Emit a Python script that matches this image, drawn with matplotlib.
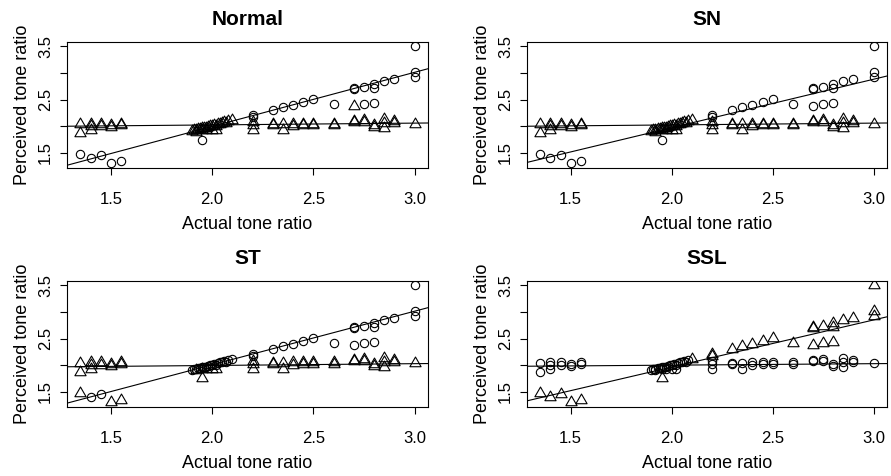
import numpy as np
import matplotlib
matplotlib.use( "Agg" )
import matplotlib.pyplot as plt
from matplotlib.path import Path

plt.rcParams['font.family'] = ['Liberation Sans', 'DejaVu Sans']

# points read off the panels (same observations in every panel)
# blocks: lower-left diag | left flat | outlier | diag cluster | low cluster | right diag | right flat
actual = np.array( [
    1.35, 1.40, 1.45, 1.50, 1.55,
    1.35, 1.35, 1.40, 1.40, 1.40, 1.45, 1.45, 1.50, 1.50, 1.55, 1.55,
    1.95,
    1.90, 1.91, 1.92, 1.93, 1.94, 1.95, 1.96, 1.97, 1.98, 1.99,
    2.00, 2.01, 2.02, 2.03, 2.04, 2.05, 2.06, 2.07, 2.08, 2.10,
    1.92, 1.95, 1.97, 2.00, 2.02,
    2.20, 2.20, 2.30, 2.35, 2.40, 2.45, 2.50, 2.60, 2.70, 2.70, 2.70,
    2.75, 2.75, 2.80, 2.80, 2.80, 2.85, 2.90, 3.00, 3.00, 3.00,
    2.20, 2.20, 2.20, 2.30, 2.30, 2.35, 2.35, 2.40, 2.40, 2.45, 2.45, 2.50, 2.50,
    2.60, 2.60, 2.70, 2.70, 2.75, 2.75, 2.80, 2.80, 2.85, 2.85, 2.85, 2.90, 2.90, 3.00 ] )

perceived = np.array( [
    1.47, 1.41, 1.46, 1.30, 1.35,
    2.04, 1.87, 2.05, 2.00, 1.92, 2.05, 2.01, 2.02, 1.99, 2.05, 2.03,
    1.75,
    1.91, 1.93, 1.92, 1.95, 1.94, 1.96, 1.97, 1.96, 1.99, 2.00,
    2.01, 2.02, 2.01, 2.04, 2.05, 2.06, 2.07, 2.06, 2.09, 2.12,
    1.90, 1.93, 1.92, 1.93, 1.92,
    2.21, 2.17, 2.31, 2.36, 2.39, 2.45, 2.51, 2.41, 2.69, 2.71, 2.38,
    2.74, 2.42, 2.80, 2.71, 2.43, 2.85, 2.89, 3.50, 3.01, 2.92,
    2.08, 2.03, 1.92, 2.04, 2.02, 2.04, 1.93, 2.05, 2.01, 2.05, 2.03, 2.05, 2.02,
    2.05, 2.03, 2.09, 2.07, 2.11, 2.08, 2.02, 1.99, 2.13, 2.06, 1.96, 2.10, 2.06, 2.04 ] )

# component of each point per model, 1 = rising line, 0 = flat line
clsNormal = ( "11111" "00000000000" "1" "00000000000000000000" "00000"
              "111111111101111111111" "000000000000000000000000000" )
clsSN     = ( "11111" "00000000000" "1" "00000000000000000000" "00000"
              "111111111111111111111" "000000000000000000000000000" )
clsST     = ( "01100" "00000000000" "0" "11111111111111111111" "00000"
              "111111111111111111111" "000000000000000000000000000" )
clsSSL    = ( "11111" "00000000000" "1" "00000000000000000001" "00000"
              "111111111111111111111" "000000000000000000000000000" )

panelName = ["Normal", "SN", "ST", "SSL"]
panelCls = [clsNormal, clsSN, clsST, clsSSL]
# fitted lines (intercept, slope)
riseLine = [( -0.039, 1.017 ), ( 0.152, 0.910 ), ( -0.005, 1.006 ), ( 0.194, 0.885 )]
flatLine = [( 1.956, 0.034 ), ( 1.956, 0.034 ), ( 1.926, 0.034 ), ( 1.944, 0.028 )]
riseMarker = ["o", "o", "o", "tri"]

triangle = Path( [( 0, 1 ), ( -0.866, -0.5 ), ( 0.866, -0.5 ), ( 0, 1 )],
                 [Path.MOVETO, Path.LINETO, Path.LINETO, Path.CLOSEPOLY] )

panelPos = [[0.0752, 0.647, 0.4052, 0.2647], [0.5915, 0.647, 0.4040, 0.2647],
            [0.0752, 0.145, 0.4052, 0.2647], [0.5915, 0.145, 0.4040, 0.2647]]

def plotBoilerplate( fig, pos, title ):
    ax = fig.add_axes( pos )
    for s in ax.spines.values():
        s.set_linewidth( 0.8 )
    ax.set_xlim( 1.284, 3.066 )
    ax.set_ylim( 1.215, 3.58 )
    ax.set_xticks( [1.5, 2.0, 2.5, 3.0] )
    ax.set_xticklabels( ["1.5", "2.0", "2.5", "3.0"] )
    ax.set_yticks( [1.5, 2.0, 2.5, 3.0, 3.5] )
    ax.set_yticklabels( ["1.5", "", "2.5", "", "3.5"], rotation = 90, va = 'center' )
    ax.tick_params( direction = 'out', length = 5, width = 0.8, labelsize = 12 )
    ax.tick_params( axis = 'x', pad = 12 )
    ax.tick_params( axis = 'y', pad = 5 )
    ax.set_xlabel( "Actual tone ratio", fontsize = 13, labelpad = 7 )
    ax.set_ylabel( "Perceived tone ratio", fontsize = 13, labelpad = 5 )
    ax.set_title( title, fontsize = 15, weight = 'bold', pad = 12.5 )
    return ax

def drawPanel( fig, idx ):
    ax = plotBoilerplate( fig, panelPos[idx], panelName[idx] )
    cls = np.array( [int( c ) for c in panelCls[idx]] )
    rise = cls == 1
    if riseMarker[idx] == "o":
        mRise, mFlat = "o", triangle
        sRise, sFlat = 6, 9.3
    else:
        mRise, mFlat = triangle, "o"
        sRise, sFlat = 9.3, 6
    ax.plot( actual[rise], perceived[rise], linestyle = "none", marker = mRise,
             markersize = sRise, mfc = "none", mec = "black", mew = 0.8 )
    ax.plot( actual[~rise], perceived[~rise], linestyle = "none", marker = mFlat,
             markersize = sFlat, mfc = "none", mec = "black", mew = 0.8 )
    b, m = riseLine[idx]
    ax.axline( ( 0, b ), slope = m, color = "black", linewidth = 0.8 )
    b, m = flatLine[idx]
    ax.axline( ( 0, b ), slope = m, color = "black", linewidth = 0.8 )

def main():
    fig = plt.figure( figsize = ( 8.91, 4.76 ), dpi = 100, facecolor = 'white' )
    for i in range( 4 ):
        drawPanel( fig, i )
    fig.savefig( "out.png", dpi = 100 )

if __name__ == '__main__':
    main()
